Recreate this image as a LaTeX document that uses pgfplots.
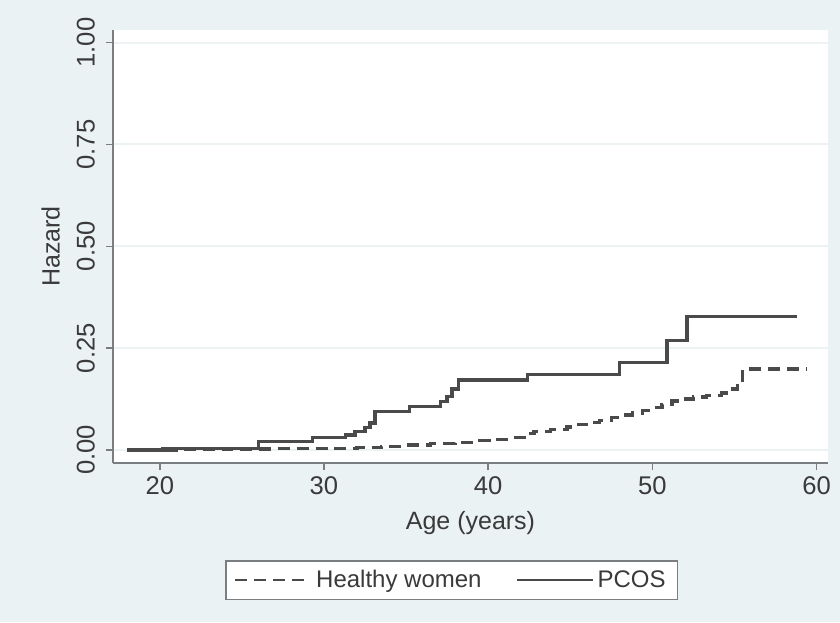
\documentclass[border=0pt]{standalone}
\usepackage{fontspec}
\setmainfont{Liberation Sans}
\usepackage{pgfplots}
\pgfplotsset{compat=1.18}
\definecolor{bgc}{HTML}{EAF2F3}
\definecolor{linec}{HTML}{4A4A4A}
\definecolor{axc}{HTML}{7A7E80}
\definecolor{gridc}{HTML}{EDF2F3}
\definecolor{txtc}{HTML}{3A3A3A}
\pgfplotstableread{
x y
18.0 0.000
21.0 0.001
24.0 0.002
27.0 0.003
30.5 0.004
32.0 0.006
33.5 0.009
35.0 0.012
36.5 0.016
38.0 0.019
39.5 0.023
40.5 0.026
41.5 0.030
42.3 0.040
42.8 0.046
43.8 0.050
44.8 0.056
45.5 0.063
46.2 0.068
46.8 0.073
47.5 0.080
48.2 0.086
48.8 0.091
49.4 0.097
50.0 0.104
50.6 0.112
51.2 0.120
51.8 0.125
52.5 0.130
53.3 0.134
54.2 0.140
54.7 0.150
55.2 0.165
55.5 0.199
59.4 0.199
}\healthy
\pgfplotstableread{
x y
18.0 0.000
20.2 0.003
26.0 0.021
29.3 0.030
31.3 0.037
31.9 0.045
32.5 0.055
32.8 0.066
33.1 0.094
35.2 0.106
37.1 0.119
37.5 0.132
37.8 0.150
38.2 0.172
42.4 0.186
48.0 0.215
50.9 0.269
52.1 0.328
58.8 0.328
}\pcos
\begin{document}
\begin{tikzpicture}
\fill[bgc] (-56.5pt,-79.5pt) rectangle (363.5pt,231.5pt);
\useasboundingbox (-56.5pt,-79.5pt) rectangle (363.5pt,231.5pt);
\begin{axis}[
  at={(0pt,0pt)}, anchor=south west,
  width=357.5pt, height=216.5pt, scale only axis,
  xmin=17.15, xmax=60.7, ymin=-0.032, ymax=1.031,
  axis x line*=bottom, axis y line*=left,
  axis line style={axc, line width=0.9pt},
  axis background/.style={fill=white},
  xtick={20,30,40,50,60},
  ytick={0,0.25,0.5,0.75,1},
  ymajorgrids, major grid style={gridc, line width=1pt},
  tick align=outside, major tick length=3.5pt,
  tick style={axc, line width=0.8pt},
  /pgf/number format/assume math mode=true,
  yticklabel style={/pgf/number format/.cd, fixed, fixed zerofill, precision=2, /tikz/.cd, rotate=90, anchor=south, xshift=0pt, yshift=2pt},
  tick label style={font=\fontsize{12.8}{15}\selectfont, text=txtc},
  label style={font=\fontsize{12.5}{15}\selectfont, text=txtc},
  xlabel={Age (years)},
  ylabel={Hazard},
  xlabel style={at={(axis description cs:0.5,0)}, anchor=center, yshift=-30pt},
  ylabel style={at={(axis description cs:-0.087,0.5)}, anchor=center},
  legend columns=2,
  legend style={at={(axis description cs:0.474,-0.271)}, anchor=center,
    draw=axc, line width=0.8pt, fill=white, font=\fontsize{12}{14}\selectfont, text=txtc,
    inner xsep=4pt, inner ysep=2.5pt,
    /tikz/every even column/.append style={column sep=15pt}},
  legend image code/.code={\draw[#1, line width=1pt] (0pt,0pt) -- (38pt,0pt);},
]
\addplot[const plot, linec, line width=1.7pt, dash pattern=on 6pt off 3.5pt] table[x=x,y=y] {\healthy};
\addlegendentry{Healthy women}
\addplot[const plot, linec, line width=1.7pt] table[x=x,y=y] {\pcos};
\addlegendentry{PCOS}
\end{axis}
\end{tikzpicture}
\end{document}
